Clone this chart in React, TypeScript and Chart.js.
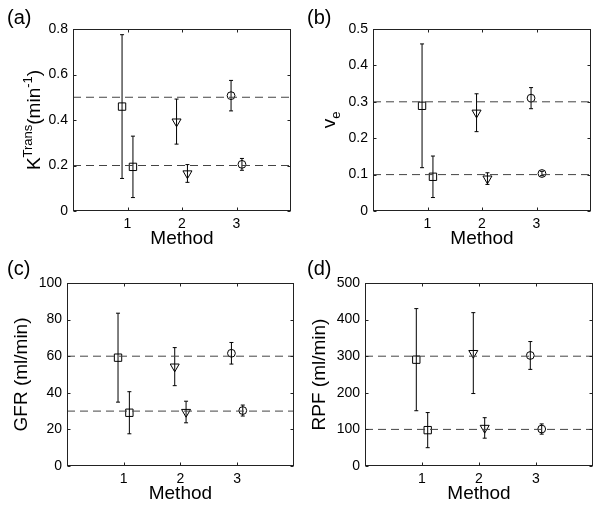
import React, { useEffect, useRef } from "react";
import { Chart, registerables } from "chart.js";

Chart.register(...registerables);

// ---------- shared data ----------
const methods = [1, 2, 3];
const groupOffsets = [-0.1, 0.1]; // high-reference group, low-reference group
const xTickValues = [1, 2, 3];
const xRange = [0, 4];
const xTitle = "Method";

// ---------- (a) K^Trans ----------
const kTransRefs = [0.5, 0.2];
const kTransHighMean = [0.459, 0.393, 0.507];
const kTransHighSd = [0.316, 0.099, 0.067];
const kTransLowMean = [0.194, 0.165, 0.205];
const kTransLowSd = [0.135, 0.039, 0.026];
const kTransTicks = [0, 0.2, 0.4, 0.6, 0.8];

// ---------- (b) v_e ----------
const veRefs = [0.3, 0.1];
const veHighMean = [0.289, 0.27, 0.31];
const veHighSd = [0.17, 0.052, 0.029];
const veLowMean = [0.094, 0.089, 0.103];
const veLowSd = [0.057, 0.016, 0.006];
const veTicks = [0, 0.1, 0.2, 0.3, 0.4, 0.5];

// ---------- (c) GFR ----------
const gfrRefs = [60, 30];
const gfrHighMean = [59.2, 54.3, 61.6];
const gfrHighSd = [24.3, 10.4, 5.9];
const gfrLowMean = [29.1, 29.5, 30.3];
const gfrLowSd = [11.5, 5.9, 3.0];
const gfrTicks = [0, 20, 40, 60, 80, 100];

// ---------- (d) RPF ----------
const rpfRefs = [300, 100];
const rpfHighMean = [290.5, 308.5, 302];
const rpfHighSd = [139.5, 110.5, 38];
const rpfLowMean = [98, 104, 101];
const rpfLowSd = [48, 28, 14];
const rpfTicks = [0, 100, 200, 300, 400, 500];

// ---------- styles ----------
const FONT = "'Liberation Sans', Arial, Helvetica, sans-serif";
const markerStyles = ["rect", "triangle", "circle"];
const markerRotation = [0, 180, 0];
const markerRadius = [5.2, 5.2, 3.9];

type Seg = { t: string; s: number; dy: number };
type Area = { l: number; t: number; r: number; b: number };
interface PanelDef {
  label: string;
  refs: number[];
  highMean: number[];
  highSd: number[];
  lowMean: number[];
  lowSd: number[];
  yTicks: number[];
  yTitle: Seg[];
  left: number;
  top: number;
  width: number;
  height: number;
  area: Area;
  titleX: number;
  labelY: number;
  methodPad: number;
}

const panels: PanelDef[] = [
  {
    label: "(a)",
    refs: kTransRefs,
    highMean: kTransHighMean,
    highSd: kTransHighSd,
    lowMean: kTransLowMean,
    lowSd: kTransLowSd,
    yTicks: kTransTicks,
    yTitle: [
      { t: "K", s: 19, dy: 0 },
      { t: "Trans", s: 13, dy: -8 },
      { t: "(min", s: 19, dy: 0 },
      { t: "-1", s: 13, dy: -8 },
      { t: ")", s: 19, dy: 0 },
    ],
    left: 0,
    top: 0,
    width: 300,
    height: 255,
    area: { l: 73, t: 29, r: 291, b: 211 },
    titleX: 33,
    labelY: 18,
    methodPad: 5,
  },
  {
    label: "(b)",
    refs: veRefs,
    highMean: veHighMean,
    highSd: veHighSd,
    lowMean: veLowMean,
    lowSd: veLowSd,
    yTicks: veTicks,
    yTitle: [
      { t: "v", s: 19, dy: 0 },
      { t: "e", s: 13, dy: 5 },
    ],
    left: 300,
    top: 0,
    width: 300,
    height: 255,
    area: { l: 73, t: 29, r: 291, b: 211 },
    titleX: 28,
    labelY: 18,
    methodPad: 5,
  },
  {
    label: "(c)",
    refs: gfrRefs,
    highMean: gfrHighMean,
    highSd: gfrHighSd,
    lowMean: gfrLowMean,
    lowSd: gfrLowSd,
    yTicks: gfrTicks,
    yTitle: [{ t: "GFR (ml/min)", s: 19, dy: 0 }],
    left: 0,
    top: 255,
    width: 300,
    height: 256,
    area: { l: 67, t: 28, r: 295, b: 211 },
    titleX: 20,
    labelY: 14,
    methodPad: 6,
  },
  {
    label: "(d)",
    refs: rpfRefs,
    highMean: rpfHighMean,
    highSd: rpfHighSd,
    lowMean: rpfLowMean,
    lowSd: rpfLowSd,
    yTicks: rpfTicks,
    yTitle: [{ t: "RPF (ml/min)", s: 19, dy: 0 }],
    left: 300,
    top: 255,
    width: 300,
    height: 256,
    area: { l: 65, t: 28, r: 293, b: 211 },
    titleX: 18,
    labelY: 14,
    methodPad: 6,
  },
];

function buildDatasets(p: PanelDef) {
  const ds: any[] = [];
  p.refs.forEach((r) => {
    ds.push({
      data: [
        { x: xRange[0], y: r },
        { x: xRange[1], y: r },
      ],
      showLine: true,
      borderColor: "#444",
      borderWidth: 1,
      borderDash: [8, 5],
      pointRadius: 0,
    });
  });
  const groups: [number[], number[], number][] = [
    [p.highMean, p.highSd, 0],
    [p.lowMean, p.lowSd, 1],
  ];
  groups.forEach(([mean, sd, g]) => {
    methods.forEach((m, i) => {
      const x = m + groupOffsets[g];
      ds.push({
        data: [
          { x, y: mean[i] - sd[i] },
          { x, y: mean[i] + sd[i] },
        ],
        showLine: true,
        borderColor: "#000",
        borderWidth: 1,
        pointStyle: "line",
        pointRadius: 2,
        pointBorderColor: "#000",
        pointBorderWidth: 1,
      });
      ds.push({
        data: [{ x, y: mean[i] }],
        pointStyle: markerStyles[i],
        rotation: markerRotation[i],
        pointRadius: markerRadius[i],
        pointBorderColor: "#000",
        pointBackgroundColor: "rgba(0,0,0,0)",
        pointBorderWidth: 1,
      });
    });
  });
  return ds;
}

function framePlugin(p: PanelDef) {
  return {
    id: "frame",
    afterDatasetsDraw(chart: any) {
      const { ctx, chartArea, scales } = chart;
      const L = Math.round(chartArea.left) + 0.5;
      const R = Math.round(chartArea.right) - 0.5;
      const T = Math.round(chartArea.top) + 0.5;
      const B = Math.round(chartArea.bottom) - 0.5;
      ctx.save();
      ctx.strokeStyle = "#222";
      ctx.lineWidth = 1;
      ctx.setLineDash([]);
      ctx.strokeRect(L, T, R - L, B - T);
      const tl = 3;
      ctx.beginPath();
      scales.y.ticks.forEach((t: any) => {
        const y = Math.round(scales.y.getPixelForValue(t.value)) + 0.5;
        ctx.moveTo(L, y);
        ctx.lineTo(L + tl, y);
        ctx.moveTo(R, y);
        ctx.lineTo(R - tl, y);
      });
      scales.x.ticks.forEach((t: any) => {
        const x = Math.round(scales.x.getPixelForValue(t.value)) + 0.5;
        ctx.moveTo(x, B);
        ctx.lineTo(x, B - tl);
        ctx.moveTo(x, T);
        ctx.lineTo(x, T + tl);
      });
      ctx.stroke();
      ctx.restore();
    },
    afterDraw(chart: any) {
      const { ctx, chartArea } = chart;
      ctx.save();
      ctx.fillStyle = "#000";
      // panel label
      ctx.font = `20px ${FONT}`;
      ctx.textBaseline = "middle";
      ctx.textAlign = "left";
      ctx.fillText(p.label, 7, p.labelY);
      // rich y title
      const cy = (chartArea.top + chartArea.bottom) / 2;
      ctx.translate(p.titleX, cy);
      ctx.rotate(-Math.PI / 2);
      ctx.textBaseline = "alphabetic";
      let total = 0;
      p.yTitle.forEach((s) => {
        ctx.font = `${s.s}px ${FONT}`;
        total += ctx.measureText(s.t).width;
      });
      let x = -total / 2;
      const base = 19 * 0.36;
      p.yTitle.forEach((s) => {
        ctx.font = `${s.s}px ${FONT}`;
        ctx.fillText(s.t, x, base + s.dy);
        x += ctx.measureText(s.t).width;
      });
      ctx.restore();
    },
  };
}

function PanelChart({ p }: { p: PanelDef }) {
  const ref = useRef<HTMLCanvasElement>(null);
  useEffect(() => {
    if (!ref.current) return;
    const a = p.area;
    const chart = new Chart(ref.current, {
      type: "scatter",
      data: { datasets: buildDatasets(p) },
      options: {
        responsive: false,
        animation: false,
        events: [],
        layout: { padding: { left: 0, top: a.t, right: p.width - a.r, bottom: 0 } },
        plugins: {
          legend: { display: false },
          tooltip: { enabled: false },
          title: { display: false },
        },
        scales: {
          x: {
            type: "linear",
            min: xRange[0],
            max: xRange[1],
            grid: { display: false, drawTicks: false },
            border: { display: false },
            afterBuildTicks: (s: any) => {
              s.ticks = xTickValues.map((v) => ({ value: v }));
            },
            afterFit: (s: any) => {
              s.height = p.height - a.b;
            },
            ticks: {
              font: { family: FONT, size: 14 },
              color: "#000",
              padding: 5,
              autoSkip: false,
              maxRotation: 0,
              callback: (v: any) => String(v),
            },
            title: {
              display: true,
              text: xTitle,
              font: { family: FONT, size: 19 },
              color: "#000",
              padding: { top: 0, bottom: p.methodPad },
            },
          },
          y: {
            type: "linear",
            min: p.yTicks[0],
            max: p.yTicks[p.yTicks.length - 1],
            grid: { display: false, drawTicks: false },
            border: { display: false },
            afterBuildTicks: (s: any) => {
              s.ticks = p.yTicks.map((v) => ({ value: v }));
            },
            afterFit: (s: any) => {
              s.width = a.l;
            },
            ticks: {
              font: { family: FONT, size: 14 },
              color: "#000",
              padding: 5,
              autoSkip: false,
              callback: (v: any) => String(v),
            },
          },
        },
      } as any,
      plugins: [framePlugin(p)],
    });
    return () => chart.destroy();
  }, [p]);
  return (
    <canvas
      ref={ref}
      width={p.width}
      height={p.height}
      style={{
        position: "absolute",
        left: p.left,
        top: p.top,
        width: p.width,
        height: p.height,
      }}
    />
  );
}

export default function App() {
  return (
    <div
      style={{
        position: "absolute",
        left: 0,
        top: 0,
        width: 600,
        height: 511,
        background: "#fff",
      }}
    >
      {panels.map((p) => (
        <PanelChart key={p.label} p={p} />
      ))}
    </div>
  );
}
